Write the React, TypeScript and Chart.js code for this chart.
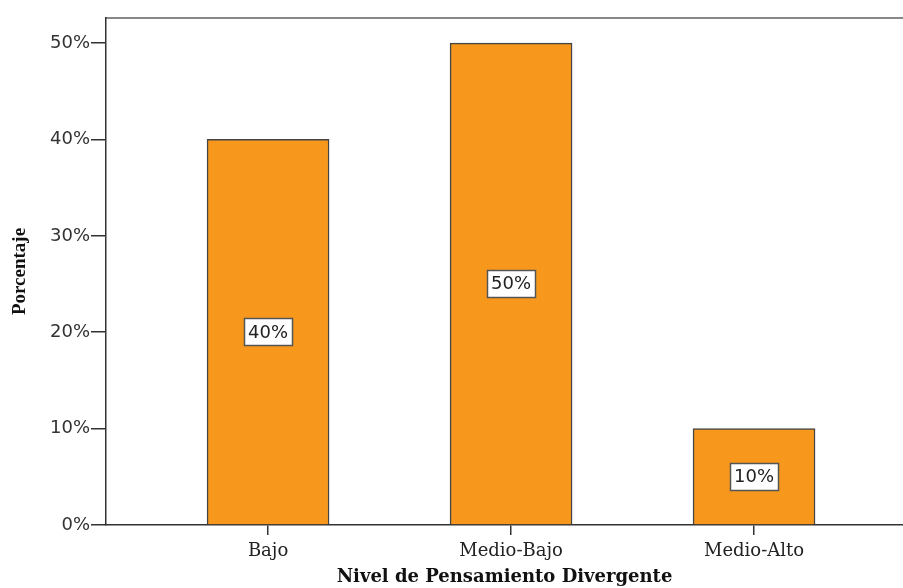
import React, { useEffect, useRef } from "react";
import { Chart, registerables } from "chart.js";

Chart.register(...registerables);

const categories = ["Bajo", "Medio-Bajo", "Medio-Alto"];
const percentages = [40, 50, 10];
const yTicks = [0, 10, 20, 30, 40, 50];
const xTitle = "Nivel de Pensamiento Divergente";
const yTitle = "Porcentaje";

const labelBoxPlugin = {
  id: "labelBoxes",
  afterDatasetsDraw(chart: any) {
    const ctx = chart.ctx;
    const meta = chart.getDatasetMeta(0);
    ctx.save();
    ctx.font = "18px 'DejaVu Sans'";
    ctx.textAlign = "center";
    ctx.textBaseline = "middle";
    meta.data.forEach((bar: any, i: number) => {
      const v = percentages[i];
      const text = v + "%";
      const cx = bar.x;
      const cy = (bar.y + bar.base) / 2;
      const w = Math.round(ctx.measureText(text).width + 8);
      const h = 27;
      const bx = Math.round(cx - w / 2) + 0.5;
      const by = Math.round(cy - h / 2) + 0.5;
      ctx.fillStyle = "#ffffff";
      ctx.fillRect(bx, by, w, h);
      ctx.strokeStyle = "#555555";
      ctx.lineWidth = 1.5;
      ctx.strokeRect(bx, by, w, h);
      ctx.fillStyle = "#222222";
      ctx.fillText(text, cx, cy + 1);
    });
    ctx.restore();
  },
};

export default function App() {
  const ref = useRef<HTMLCanvasElement>(null);
  useEffect(() => {
    if (!ref.current) return;
    const chart = new Chart(ref.current, {
      type: "bar",
      data: {
        datasets: [
          {
            data: categories.map((c, i) => ({ x: i, y: percentages[i] })),
            backgroundColor: "#F7981D",
            borderColor: "#444444",
            borderWidth: 1.5,
            barThickness: 122,
          } as any,
        ],
      },
      options: {
        animation: false,
        responsive: false,
        maintainAspectRatio: false,
        layout: { padding: 0 },
        plugins: { legend: { display: false }, tooltip: { enabled: false } },
        scales: {
          x: {
            type: "linear",
            position: "bottom",
            offset: false,
            min: -0.667,
            max: 2.613,
            afterBuildTicks: (scale: any) => {
              scale.ticks = categories.map((_, i) => ({ value: i }));
            },
            afterFit: (scale: any) => {
              scale.height = 63;
            },
            ticks: {
              callback: (v: any) => categories[v as number] ?? "",
              font: { family: "'DejaVu Serif'", size: 18 },
              color: "#222222",
              padding: 6,
              maxRotation: 0,
              autoSkip: false,
            },
            grid: {
              offset: false,
              drawOnChartArea: false,
              drawTicks: true,
              tickLength: 10,
              color: "#333333",
              lineWidth: 1.5,
            },
            border: { display: true, color: "#333333", width: 1.5 },
            title: {
              display: true,
              text: xTitle,
              font: { family: "'DejaVu Serif'", size: 18, weight: "bold" },
              color: "#111111",
              padding: { top: 0, bottom: 0 },
            },
          },
          x2: {
            type: "linear",
            position: "top",
            offset: false,
            min: -0.667,
            max: 2.613,
            afterFit: (scale: any) => {
              scale.height = 18;
            },
            ticks: { display: false },
            grid: { display: false, drawTicks: false, offset: false },
            border: { display: true, color: "#888888", width: 2 },
          },
          y: {
            type: "linear",
            min: 0,
            max: 52.6,
            afterBuildTicks: (scale: any) => {
              scale.ticks = yTicks.map((v) => ({ value: v }));
            },
            afterFit: (scale: any) => {
              scale.width = 106;
            },
            ticks: {
              callback: (v: any) => v + "%",
              font: { family: "'DejaVu Sans'", size: 18 },
              color: "#333333",
              padding: 1,
            },
            grid: {
              drawOnChartArea: false,
              drawTicks: true,
              tickLength: 15,
              color: "#333333",
              lineWidth: 1.5,
            },
            border: { display: true, color: "#333333", width: 1.5 },
            title: {
              display: true,
              text: yTitle,
              font: { family: "'Liberation Serif'", size: 19, weight: "bold" },
              color: "#111111",
              padding: { top: 9, bottom: 0 },
            },
          },
        },
      },
      plugins: [labelBoxPlugin],
    });
    return () => chart.destroy();
  }, []);
  return (
    <div style={{ position: "absolute", left: 0, top: 0, width: 903, height: 588, background: "#fff" }}>
      <canvas ref={ref} width={903} height={588} style={{ width: 903, height: 588, display: "block" }} />
    </div>
  );
}
